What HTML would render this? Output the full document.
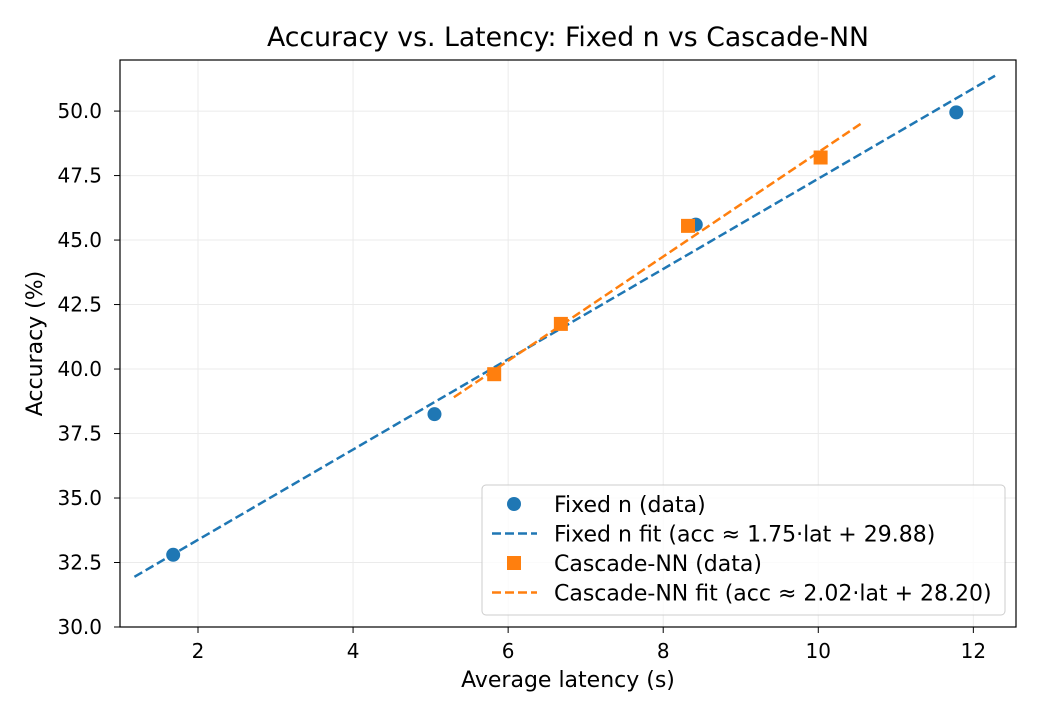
<!DOCTYPE html>
<html><head><meta charset="utf-8"><style>
body{margin:0;background:#fff;font-family:"DejaVu Sans",sans-serif}
</style></head><body>
<svg id="chart" width="1040" height="720" xmlns="http://www.w3.org/2000/svg" font-family="DejaVu Sans, sans-serif"></svg>
<script>
const fixedLat=[1.68,5.05,8.42,11.78];
const fixedAcc=[32.8,38.25,45.6,49.95];
const cascLat=[5.82,6.68,8.32,10.03];
const cascAcc=[39.8,41.75,45.55,48.2];
const fixedFit=[1.75,29.88];
const cascFit=[2.02,28.20];
const fixedFitRange=[1.18,12.28];
const cascFitRange=[5.3,10.55];
const xTicks=[2,4,6,8,10,12];
const yTicks=[30.0,32.5,35.0,37.5,40.0,42.5,45.0,47.5,50.0];

const L=120,R=1016,T=60,B=627;
const xMin=0.994,xMax=12.55,yMin=30,yMax=51.98;
const sx=v=>L+(v-xMin)/(xMax-xMin)*(R-L);
const sy=v=>B-(v-yMin)/(yMax-yMin)*(B-T);
const svg=document.getElementById('chart');
const NS='http://www.w3.org/2000/svg';
function mk(tag,attrs,name,parent){const e=document.createElementNS(NS,tag);for(const k in attrs)e.setAttribute(k,attrs[k]);


(parent||svg).appendChild(e);return e;}
function txt(s,attrs,name){const e=mk('text',attrs,name);e.textContent=s;return e;}

mk('rect',{x:L,y:T,width:R-L,height:B-T,fill:'#fff'},'plot-area');
xTicks.forEach(t=>{const x=sx(t);
mk('line',{x1:x,x2:x,y1:T,y2:B,stroke:'#ebebeb','stroke-width':1},'x-grid-line');
mk('line',{x1:x,x2:x,y1:B,y2:B+6,stroke:'#000'},'x-tick');
txt(String(t),{x:x,y:B+31,'font-size':20,'text-anchor':'middle'},'x-tick-label');});
yTicks.forEach(t=>{const y=sy(t);
mk('line',{x1:L,x2:R,y1:y,y2:y,stroke:'#ebebeb','stroke-width':1},'y-grid-line');
mk('line',{x1:L-6,x2:L,y1:y,y2:y,stroke:'#000'},'y-tick');
txt(t.toFixed(1),{x:L-18,y:y+7,'font-size':20,'text-anchor':'end'},'y-tick-label');});

mk('line',{x1:sx(fixedFitRange[0]),y1:sy(fixedFit[0]*fixedFitRange[0]+fixedFit[1]),x2:sx(fixedFitRange[1]),y2:sy(fixedFit[0]*fixedFitRange[1]+fixedFit[1]),stroke:'#1f77b4','stroke-width':2.5,'stroke-dasharray':'9,4'},'fixed-fit-line');
mk('line',{x1:sx(cascFitRange[0]),y1:sy(cascFit[0]*cascFitRange[0]+cascFit[1]),x2:sx(cascFitRange[1]),y2:sy(cascFit[0]*cascFitRange[1]+cascFit[1]),stroke:'#ff7f0e','stroke-width':2.5,'stroke-dasharray':'9,4'},'cascade-fit-line');
fixedLat.forEach((v,i)=>mk('circle',{cx:sx(v),cy:sy(fixedAcc[i]),r:7,fill:'#1f77b4'},'fixed-point'));
cascLat.forEach((v,i)=>mk('rect',{x:sx(v)-7,y:sy(cascAcc[i])-7,width:14,height:14,fill:'#ff7f0e'},'cascade-point'));

mk('rect',{x:L,y:T,width:R-L,height:B-T,fill:'none',stroke:'#000','stroke-width':1.2},'plot-frame');
txt('Accuracy vs. Latency: Fixed n vs Cascade-NN',{x:(L+R)/2,y:46,'font-size':26.7,'text-anchor':'middle'},'chart-title');
txt('Average latency (s)',{x:(L+R)/2,y:687,'font-size':22,'text-anchor':'middle'},'x-axis-title');
txt('Accuracy (%)',{x:0,y:0,'font-size':22,'text-anchor':'middle',transform:`translate(42,${(T+B)/2}) rotate(-90)`},'y-axis-title');

const g=mk('g',{},'legend');
mk('rect',{x:482,y:485,width:523,height:130,rx:4,fill:'#fff','fill-opacity':0.8,stroke:'#ccc'},'legend-box',g);
const items=[['Fixed n (data)','c','#1f77b4'],['Fixed n fit (acc ≈ 1.75·lat + 29.88)','l','#1f77b4'],['Cascade-NN (data)','s','#ff7f0e'],['Cascade-NN fit (acc ≈ 2.02·lat + 28.20)','l','#ff7f0e']];
items.forEach((it,i)=>{const y=504+i*29.5;
if(it[1]==='c')mk('circle',{cx:514,cy:y,r:7,fill:it[2]},'legend-marker',g);
else if(it[1]==='s')mk('rect',{x:507,y:y-7,width:14,height:14,fill:it[2]},'legend-marker',g);
else mk('line',{x1:492,x2:537,y1:y,y2:y,stroke:it[2],'stroke-width':2.5,'stroke-dasharray':'9,4'},'legend-line',g);
const t=mk('text',{x:554,y:y+8,'font-size':22},'legend-entry',g);t.textContent=it[0];});
</script>
</body></html>
